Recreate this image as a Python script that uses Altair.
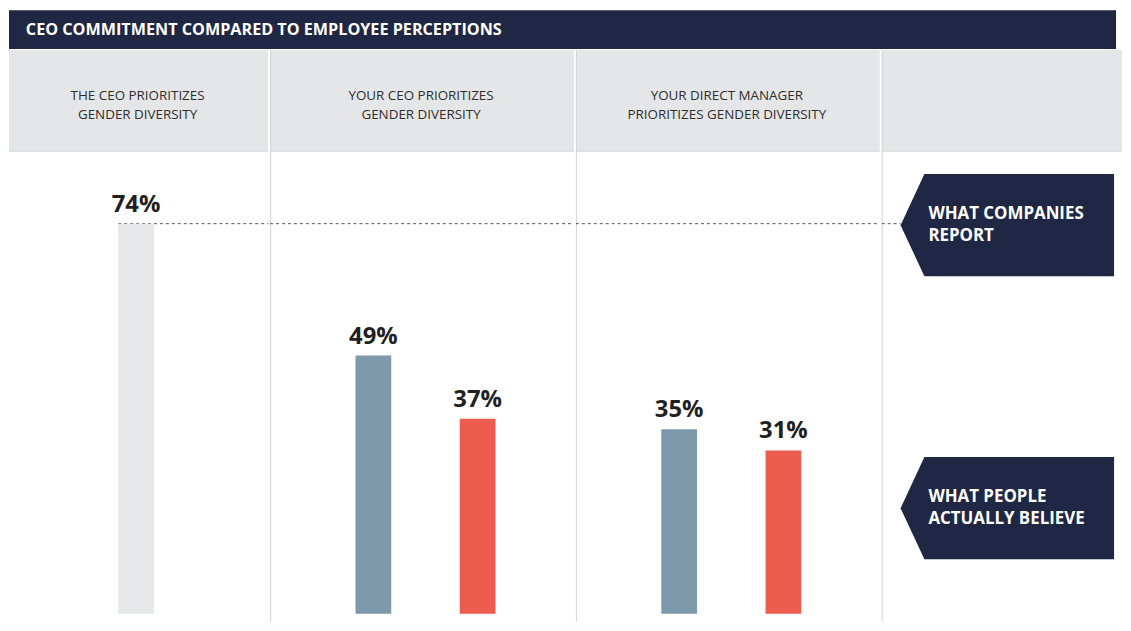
import altair as alt
import pandas as pd

# ---------------- data ----------------
TITLE = "CEO COMMITMENT COMPARED TO EMPLOYEE PERCEPTIONS"
panel_titles = [
    ["THE CEO PRIORITIZES", "GENDER DIVERSITY"],
    ["YOUR CEO PRIORITIZES", "GENDER DIVERSITY"],
    ["YOUR DIRECT MANAGER", "PRIORITIZES GENDER DIVERSITY"],
]
company_series = ["Company"]
company_report = [74]
employee_series = ["Men", "Women"]
your_ceo = [49, 37]
direct_manager = [35, 31]
badge_labels = [["WHAT COMPANIES", "REPORT"], ["WHAT PEOPLE", "ACTUALLY BELIEVE"]]

# ---------------- style ----------------
NAVY = "#1f2744"
HEADER_GRAY = "#e5e6e8"
LINE = "#d3d3d3"
TEXT_DARK = "#231f20"
FONT = "Open Sans"
color_scale = alt.Scale(domain=["Company", "Men", "Women"],
                        range=["#e6e7e9", "#7e99ab", "#ee5b4f"])

HEAD_BAR_H = 39
PANEL_H = 576
HEAD_H = 102
PX_PER_PCT = 393 / 74
BASE_PX = 568
Y_MAX = BASE_PX / PX_PER_PCT
Y_MIN = -(PANEL_H - BASE_PX) / PX_PER_PCT
y_scale = alt.Scale(domain=[Y_MIN, Y_MAX], nice=False, zero=False)
widths = [261, 306, 306, 242]
REF_LEVEL = company_report[0]
ref_px = (Y_MAX - REF_LEVEL) / (Y_MAX - Y_MIN) * PANEL_H

deco = pd.DataFrame({"d": [0]})


def text_lines(lines, x, y_mid, line_h, **kw):
    base = alt.Chart(deco)
    out = []
    n = len(lines)
    for k, s in enumerate(lines):
        yy = y_mid + (k - (n - 1) / 2) * line_h
        out.append(base.mark_text(baseline="middle", **kw).encode(
            x=alt.value(x), y=alt.value(yy), text=alt.value(s)))
    return out


def decorations(width, title_lines, left_border, dash_from, dash_to):
    base = alt.Chart(deco)
    layers = [
        base.mark_rect(color=HEADER_GRAY).encode(
            x=alt.value(0), x2=alt.value(width), y=alt.value(0), y2=alt.value(HEAD_H)),
        base.mark_rule(color=LINE, strokeWidth=1).encode(
            x=alt.value(0), x2=alt.value(width), y=alt.value(HEAD_H)),
    ]
    if left_border:
        layers.append(base.mark_rule(color=LINE, strokeWidth=1).encode(
            x=alt.value(0.5), y=alt.value(0), y2=alt.value(PANEL_H)))
    layers += text_lines(title_lines, width / 2 - 1, 56, 20, font=FONT, fontSize=13.5,
                         color="#2e2e2e", align="center")
    layers.append(base.mark_rule(color="#555555", strokeWidth=1, strokeDash=[3, 3]).encode(
        x=alt.value(dash_from), x2=alt.value(dash_to), y=alt.value(ref_px)))
    return layers


def bar_layers(series, values, x_range, padding):
    df = pd.DataFrame({"series": series, "value": values, "base": [0] * len(values)})
    xenc = alt.X("series:N", sort=series, axis=None,
                 scale=alt.Scale(type="point", padding=padding, domain=series, range=x_range))
    base = alt.Chart(df).transform_calculate(label="datum.value + '%'")
    bars = base.mark_bar(size=36).encode(
        x=xenc,
        y=alt.Y("value:Q", scale=y_scale, axis=None),
        y2="base:Q",
        color=alt.Color("series:N", scale=color_scale, legend=None),
    )
    labels = base.mark_text(font=FONT, fontSize=24, fontWeight="bold", color=TEXT_DARK,
                            baseline="alphabetic", dy=-12).encode(
        x=xenc,
        y=alt.Y("value:Q", scale=y_scale, axis=None),
        text="label:N",
    )
    return [bars, labels]


p1 = alt.layer(*decorations(widths[0], panel_titles[0], False, 110, widths[0]),
               *bar_layers(company_series, company_report, [0, 256], 0.5)
               ).properties(width=widths[0], height=PANEL_H)
p2 = alt.layer(*decorations(widths[1], panel_titles[1], True, 0, widths[1]),
               *bar_layers(employee_series, your_ceo, [104, 209], 0)
               ).properties(width=widths[1], height=PANEL_H)
p3 = alt.layer(*decorations(widths[2], panel_titles[2], True, 0, widths[2]),
               *bar_layers(employee_series, direct_manager, [104, 209], 0)
               ).properties(width=widths[2], height=PANEL_H)

# badges panel
BADGE_PATH = "M -1 0 L -0.777 -0.479 L 1 -0.479 L 1 0.479 L -0.777 0.479 Z"
badge_centers = [ref_px + 1.5, 461.5]
badge_layers = []
for lines, cy in zip(badge_labels, badge_centers):
    b = alt.Chart(deco)
    badge_layers.append(b.mark_point(shape=BADGE_PATH, filled=True, size=215 ** 2,
                                     color=NAVY, opacity=1, strokeWidth=0).encode(
        x=alt.value(126.5), y=alt.value(cy)))
    badge_layers += text_lines(lines, 47, cy, 22.5, font=FONT, fontSize=17,
                               fontWeight="bold", color="white", align="left")

p4 = alt.layer(*decorations(widths[3], [], True, 0, 19), *badge_layers
               ).properties(width=widths[3], height=PANEL_H)

# header
hb = alt.Chart(deco)
header = alt.layer(
    hb.mark_rect(color=NAVY).encode(x=alt.value(0), x2=alt.value(sum(widths)),
                                    y=alt.value(0), y2=alt.value(HEAD_BAR_H)),
    hb.mark_text(font=FONT, fontSize=16.3, fontWeight="bold", color="white",
                 align="left", baseline="middle").encode(
        x=alt.value(17), y=alt.value(20), text=alt.value(TITLE)),
).properties(width=sum(widths), height=HEAD_BAR_H)

chart = alt.vconcat(
    header,
    alt.hconcat(p1, p2, p3, p4, spacing=0),
    spacing=0,
).properties(padding=0).configure_view(stroke=None)

chart.save("out.html", embed_options={"renderer": "svg", "actions": False})
